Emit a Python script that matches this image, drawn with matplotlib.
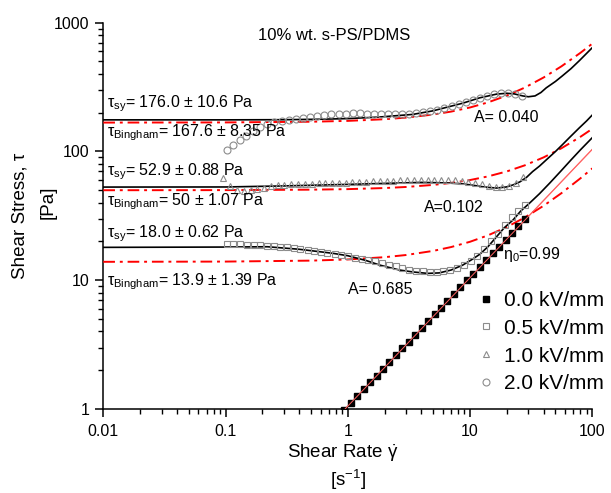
import numpy as np
import matplotlib
matplotlib.use("Agg")
import matplotlib.pyplot as plt

plt.rcParams["font.family"] = ["Liberation Sans", "DejaVu Sans"]
plt.rcParams["mathtext.fontset"] = "custom"
plt.rcParams["mathtext.rm"] = "Liberation Sans"
plt.rcParams["mathtext.it"] = "Liberation Sans"
plt.rcParams["mathtext.default"] = "regular"

# ---- data ----
# 0.0 kV/mm (Newtonian, filled squares)
rate_00 = [0.93, 1.06, 1.19, 1.35, 1.52, 1.72, 1.94, 2.19, 2.47, 2.79, 3.15, 3.56, 4.02, 4.54,
           5.12, 5.78, 6.53, 7.37, 8.32, 9.40, 10.6, 12.0, 13.5, 15.3, 17.2, 19.5, 22.0, 24.8, 28.0]
stress_00 = [0.99, 1.12, 1.26, 1.43, 1.61, 1.82, 2.06, 2.32, 2.62, 2.96, 3.34, 3.77, 4.26, 4.81,
             5.43, 6.13, 6.92, 7.81, 8.82, 9.96, 11.2, 12.7, 14.3, 16.2, 18.2, 20.7, 23.3, 26.3, 29.7]
eta_rate = [0.95, 100]
eta_stress = [1.0, 104]

# 0.5 kV/mm (open squares)
rate_05 = [0.102, 0.116, 0.132, 0.15, 0.17, 0.19, 0.22, 0.25, 0.28, 0.32, 0.36, 0.41, 0.47, 0.53,
           0.60, 0.68, 0.78, 0.88, 1.0, 1.14, 1.3, 1.47, 1.67, 1.9, 2.17, 2.46, 2.8, 3.18, 3.62,
           4.12, 4.68, 5.32, 6.05, 6.88, 7.82, 8.9, 10.1, 11.5, 13.1, 14.9, 16.9, 19.2, 21.9, 24.9, 28.3]
stress_05 = [19.0, 19.0, 19.0, 18.9, 18.8, 18.7, 18.5, 18.4, 18.2, 18.0, 17.8, 17.4, 17.1, 16.8,
             16.5, 16.2, 15.9, 15.6, 15.3, 15.0, 14.6, 14.3, 14.0, 13.6, 13.2, 12.8, 12.4, 12.1, 11.9,
             11.7, 11.6, 11.6, 11.7, 12.0, 12.4, 13.1, 14.1, 15.5, 17.4, 20.0, 23.0, 26.8, 31.0, 34.5, 38.3]

# 1.0 kV/mm (open triangles)
rate_10 = [0.096, 0.109, 0.124, 0.141, 0.16, 0.182, 0.207, 0.235, 0.267, 0.303, 0.345, 0.392, 0.446,
           0.507, 0.576, 0.655, 0.745, 0.847, 0.963, 1.09, 1.24, 1.41, 1.61, 1.83, 2.08, 2.36, 2.69,
           3.06, 3.48, 3.95, 4.49, 5.11, 5.81, 6.6, 7.5, 8.53, 9.7, 11.0, 12.5, 14.2, 16.2, 18.4,
           20.9, 23.8, 27.0]
stress_10 = [61.8, 53.5, 50.5, 49.6, 49.8, 51.0, 52.5, 53.5, 54.5, 55.2, 55.5, 55.7, 56.0, 56.2,
             56.4, 56.6, 56.8, 57.0, 57.3, 57.6, 57.9, 58.2, 58.5, 58.8, 59.1, 59.4, 59.6, 59.8,
             60.0, 60.1, 60.2, 60.2, 60.1, 60.0, 59.7, 59.2, 58.3, 57.1, 55.7, 54.3, 53.3, 53.0,
             53.6, 56.5, 63.0]

# 2.0 kV/mm (open circles)
rate_20 = [0.102, 0.115, 0.131, 0.148, 0.167, 0.19, 0.219, 0.25, 0.29, 0.33, 0.38, 0.43, 0.49, 0.56,
           0.64, 0.73, 0.84, 0.96, 1.1, 1.25, 1.43, 1.63, 1.86, 2.13, 2.43, 2.78, 3.17, 3.63, 4.14,
           4.73, 5.41, 6.18, 7.06, 8.07, 9.2, 10.5, 12.0, 13.7, 15.7, 17.9, 20.5, 23.4, 26.7]
stress_20 = [102, 112, 122, 133, 145, 155, 164, 169, 173, 176, 179, 181, 184, 188,
             191, 194, 196, 197, 198, 198, 197, 197, 196, 196, 196, 196, 197, 199, 202,
             206, 211, 217, 224, 232, 241, 251, 261, 270, 277, 282, 283, 279, 270]

# model fits (solid black)
fit_rate_05 = [0.01, 0.1, 0.22, 0.4, 0.75, 1.0, 1.42, 1.83, 2.65, 3.4, 4.5, 5.6, 7.0, 8.7, 10.5,
               12, 14, 16.5, 19, 22.5, 26, 30.5, 37, 45, 55, 67, 80, 100]
fit_stress_05 = [18.0, 18.1, 18.2, 17.4, 16.2, 15.5, 14.2, 13.1, 12.0, 11.6, 11.3, 11.4, 12.0, 13.1,
                 14.6, 15.9, 18.2, 21.8, 25.5, 29.4, 34.5, 39.5, 47, 57, 70, 86, 103, 128]
fit_rate_10 = [0.01, 0.1, 0.3, 1, 2, 4, 6.4, 8.7, 10.5, 12.5, 14.4, 16.5, 19.8, 22.5, 25.5, 29,
               32.5, 37, 42, 50, 57, 66, 78, 90, 100]
fit_stress_10 = [52.9, 53, 54, 55.5, 56.5, 57.5, 57, 56, 54.7, 53.3, 52.5, 52, 53, 55, 58, 63,
                 69.8, 77, 86, 100, 113, 130, 152, 173, 192]
fit_rate_20 = [0.01, 0.1, 0.3, 0.6, 1, 1.8, 3.4, 5, 6.4, 8.7, 12, 16.5, 20, 23, 27, 30, 34, 38,
               42, 50, 57, 67, 78, 100]
fit_stress_20 = [176, 176, 176.5, 178, 180, 185, 194, 207, 220, 237, 261, 279, 283, 280, 270, 266,
                 270, 287, 312, 350, 387, 440, 505, 640]

# Bingham fits (red dash-dot)
bing_rate = [0.01, 0.1, 0.5, 1, 2, 3, 5, 7, 10, 14, 20, 28, 40, 56, 80, 100]
bing_05 = [13.9, 13.96, 14.2, 14.5, 15.1, 15.7, 16.9, 18.1, 19.9, 22.3, 25.9, 30.7, 37.9, 47.5, 61.9, 73.9]
bing_10 = [50, 50.1, 50.5, 51, 52, 53, 55, 57, 60, 64, 70, 78, 90, 106, 130, 150]
bing_20 = [167.6, 168.1, 170.2, 172.8, 178.0, 183.2, 193.6, 204.0, 219.6, 240.4, 271.6, 313.2,
           375.6, 458.8, 583.6, 687.6]

W, H = 611, 493
fig = plt.figure(figsize=(W / 100, H / 100), dpi=100)
ax = fig.add_axes([103.3 / W, 1 - 409 / H, (592.3 - 103.3) / W, (409 - 22.7) / H])


def px(x, y):
    # pixel position (from top-left) -> figure fraction
    return x / W, 1 - y / H


gray = "#8c8c8c"
ax.plot(eta_rate, eta_stress, color="#ff8080", lw=0.9, zorder=2)
for r, s in [(bing_rate, bing_05), (bing_rate, bing_10), (bing_rate, bing_20)]:
    ax.plot(r, s, color="red", lw=1.4, ls=(0, (6, 2.5, 1.5, 2.5)), zorder=3)
for r, s in [(fit_rate_05, fit_stress_05), (fit_rate_10, fit_stress_10), (fit_rate_20, fit_stress_20)]:
    ax.plot(r, s, color="black", lw=1.2, zorder=4)

ax.plot(rate_00, stress_00, ls="none", marker="s", ms=4.2, mfc="black", mec="black", zorder=5,
        label="0.0 kV/mm")
ax.plot(rate_05, stress_05, ls="none", marker="s", ms=4.2, mfc="none", mec=gray, mew=0.8, zorder=5,
        label="0.5 kV/mm")
ax.plot(rate_10, stress_10, ls="none", marker="^", ms=4.5, mfc="none", mec=gray, mew=0.8, zorder=5,
        label="1.0 kV/mm")
ax.plot(rate_20, stress_20, ls="none", marker="o", ms=5, mfc="none", mec=gray, mew=0.8, zorder=5,
        label="2.0 kV/mm")
ax.plot(eta_rate, eta_stress, color="#ff6060", lw=0.7, zorder=6)

ax.set_xscale("log")
ax.set_yscale("log")
ax.set_xlim(0.01, 100)
ax.set_ylim(1, 1000)
ax.set_xticks([0.01, 0.1, 1, 10, 100])
ax.set_xticklabels(["0.01", "0.1", "1", "10", "100"])
ax.set_yticks([1, 10, 100, 1000])
ax.set_yticklabels(["1", "10", "100", "1000"])
for s in ["top", "right"]:
    ax.spines[s].set_visible(False)
for s in ["left", "bottom"]:
    ax.spines[s].set_linewidth(1.1)
ax.tick_params(which="major", direction="out", length=6, width=1.1, labelsize=11.5, pad=4)
ax.tick_params(which="minor", direction="out", length=3.5, width=1.0)
ax.tick_params(axis="x", which="major", pad=5)

leg = ax.legend(loc="upper left", bbox_to_anchor=px(480, 291), bbox_transform=fig.transFigure,
                frameon=False, fontsize=15, handlelength=0.6, handletextpad=0.55,
                labelspacing=0.42, borderpad=0, borderaxespad=0)

# axis labels
fig.text(*px(20, 216), "Shear Stress, τ", rotation=90, ha="center", va="center", fontsize=13.5)
fig.text(*px(48, 202), "[Pa]", rotation=90, ha="center", va="center", fontsize=13.5)
fig.text(*px(343, 453), r"Shear Rate $\dot{\gamma}$", ha="center", va="center", fontsize=13.5)
fig.text(*px(348, 480), r"[s$^{-1}$]", ha="center", va="center", fontsize=13.5)

# annotations
fig.text(*px(334, 35), "10% wt. s-PS/PDMS", ha="center", va="center", fontsize=12)
fs = 11.5
fig.text(*px(107, 104), r"$\tau_{sy}$= 176.0 ± 10.6 Pa", ha="left", va="center", fontsize=fs)
fig.text(*px(107, 133), r"$\tau_{Bingham}$= 167.6 ± 8.35 Pa", ha="left", va="center", fontsize=fs)
fig.text(*px(107, 172), r"$\tau_{sy}$= 52.9 ± 0.88 Pa", ha="left", va="center", fontsize=fs)
fig.text(*px(107, 202), r"$\tau_{Bingham}$= 50 ± 1.07 Pa", ha="left", va="center", fontsize=fs)
fig.text(*px(107, 234), r"$\tau_{sy}$= 18.0 ± 0.62 Pa", ha="left", va="center", fontsize=fs)
fig.text(*px(107, 282), r"$\tau_{Bingham}$= 13.9 ± 1.39 Pa", ha="left", va="center", fontsize=fs)
fig.text(*px(474, 117), "A= 0.040", ha="left", va="center", fontsize=fs)
fig.text(*px(424, 208), "A=0.102", ha="left", va="center", fontsize=fs)
fig.text(*px(348, 290), "A= 0.685", ha="left", va="center", fontsize=fs)
fig.text(*px(503, 255), r"$\eta_0$=0.99", ha="left", va="center", fontsize=fs)

fig.savefig("out.png", dpi=100)
